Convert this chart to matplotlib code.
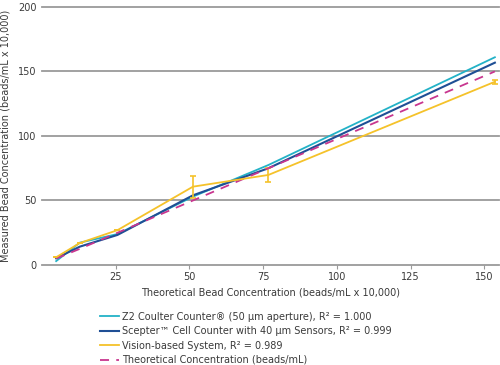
import matplotlib
matplotlib.use("Agg")
import matplotlib.pyplot as plt
import numpy as np

# theoretical bead concentration (beads/mL x 10,000)
conc = [4.8, 12.8, 25.6, 51.2, 76.8, 153.6]

z2_coulter = [3.0, 17.3, 24.0, 53.0, 77.5, 161.0]
scepter = [5.2, 14.2, 23.3, 54.0, 75.0, 156.8]
vision = [6.0, 17.0, 27.0, 60.7, 69.8, 142.0]
vision_err = [0, 0, 0, 8.5, 5.4, 1.5]
theoretical = [5.0, 12.5, 25.0, 50.0, 75.0, 150.0]

labels = ["Z2 Coulter Counter\u00ae (50 \u00b5m aperture), R\u00b2 = 1.000",
          "Scepter\u2122 Cell Counter with 40 \u00b5m Sensors, R\u00b2 = 0.999",
          "Vision-based System, R\u00b2 = 0.989",
          "Theoretical Concentration (beads/mL)"]

xticks = [25, 50, 75, 100, 125, 150]
yticks = [0, 50, 100, 150, 200]

txt = "#3a3a3a"
fig = plt.figure(figsize=(5, 3.65), dpi=100)
ax = fig.add_axes([0.084, 0.274, 0.914, 0.707])

# gridlines
for y in yticks:
    ax.axhline(y, color="#9a9a9a", lw=1.3, zorder=0, clip_on=False)

l1, = ax.plot(conc, z2_coulter, color="#23b2c7", lw=1.3)
l2, = ax.plot(conc, scepter, color="#1f4f95", lw=1.5)
l3 = ax.errorbar(conc, vision, yerr=vision_err, color="#f5c22a", lw=1.3,
                 capsize=2.5, elinewidth=1.2, capthick=1.2)
l4, = ax.plot(conc, theoretical, color="#c8368f", lw=1.3, dashes=(5, 4))

ax.set_xlim(0, 155)
ax.set_ylim(0, 200)
ax.set_xticks(xticks)
ax.set_yticks(yticks)
for s in ax.spines.values():
    s.set_visible(False)
ax.tick_params(axis="y", length=0, labelsize=7, labelcolor=txt, pad=4)
ax.tick_params(axis="x", length=3, color="#9a9a9a", labelsize=7, labelcolor=txt, pad=2)

ax.set_xlabel("Theoretical Bead Concentration (beads/mL x 10,000)", fontsize=7, color=txt, labelpad=4)
ax.set_ylabel("Measured Bead Concentration (beads/mL x 10,000)", fontsize=7, color=txt, labelpad=5)

fig.legend([l1, l2, l3[0], l4], labels, loc="upper left", bbox_to_anchor=(0.19, 0.159),
           frameon=False, fontsize=7, handlelength=2.0, handletextpad=0.3,
           labelspacing=0.45, borderpad=0, labelcolor=txt)

fig.savefig("out.png", dpi=100)
